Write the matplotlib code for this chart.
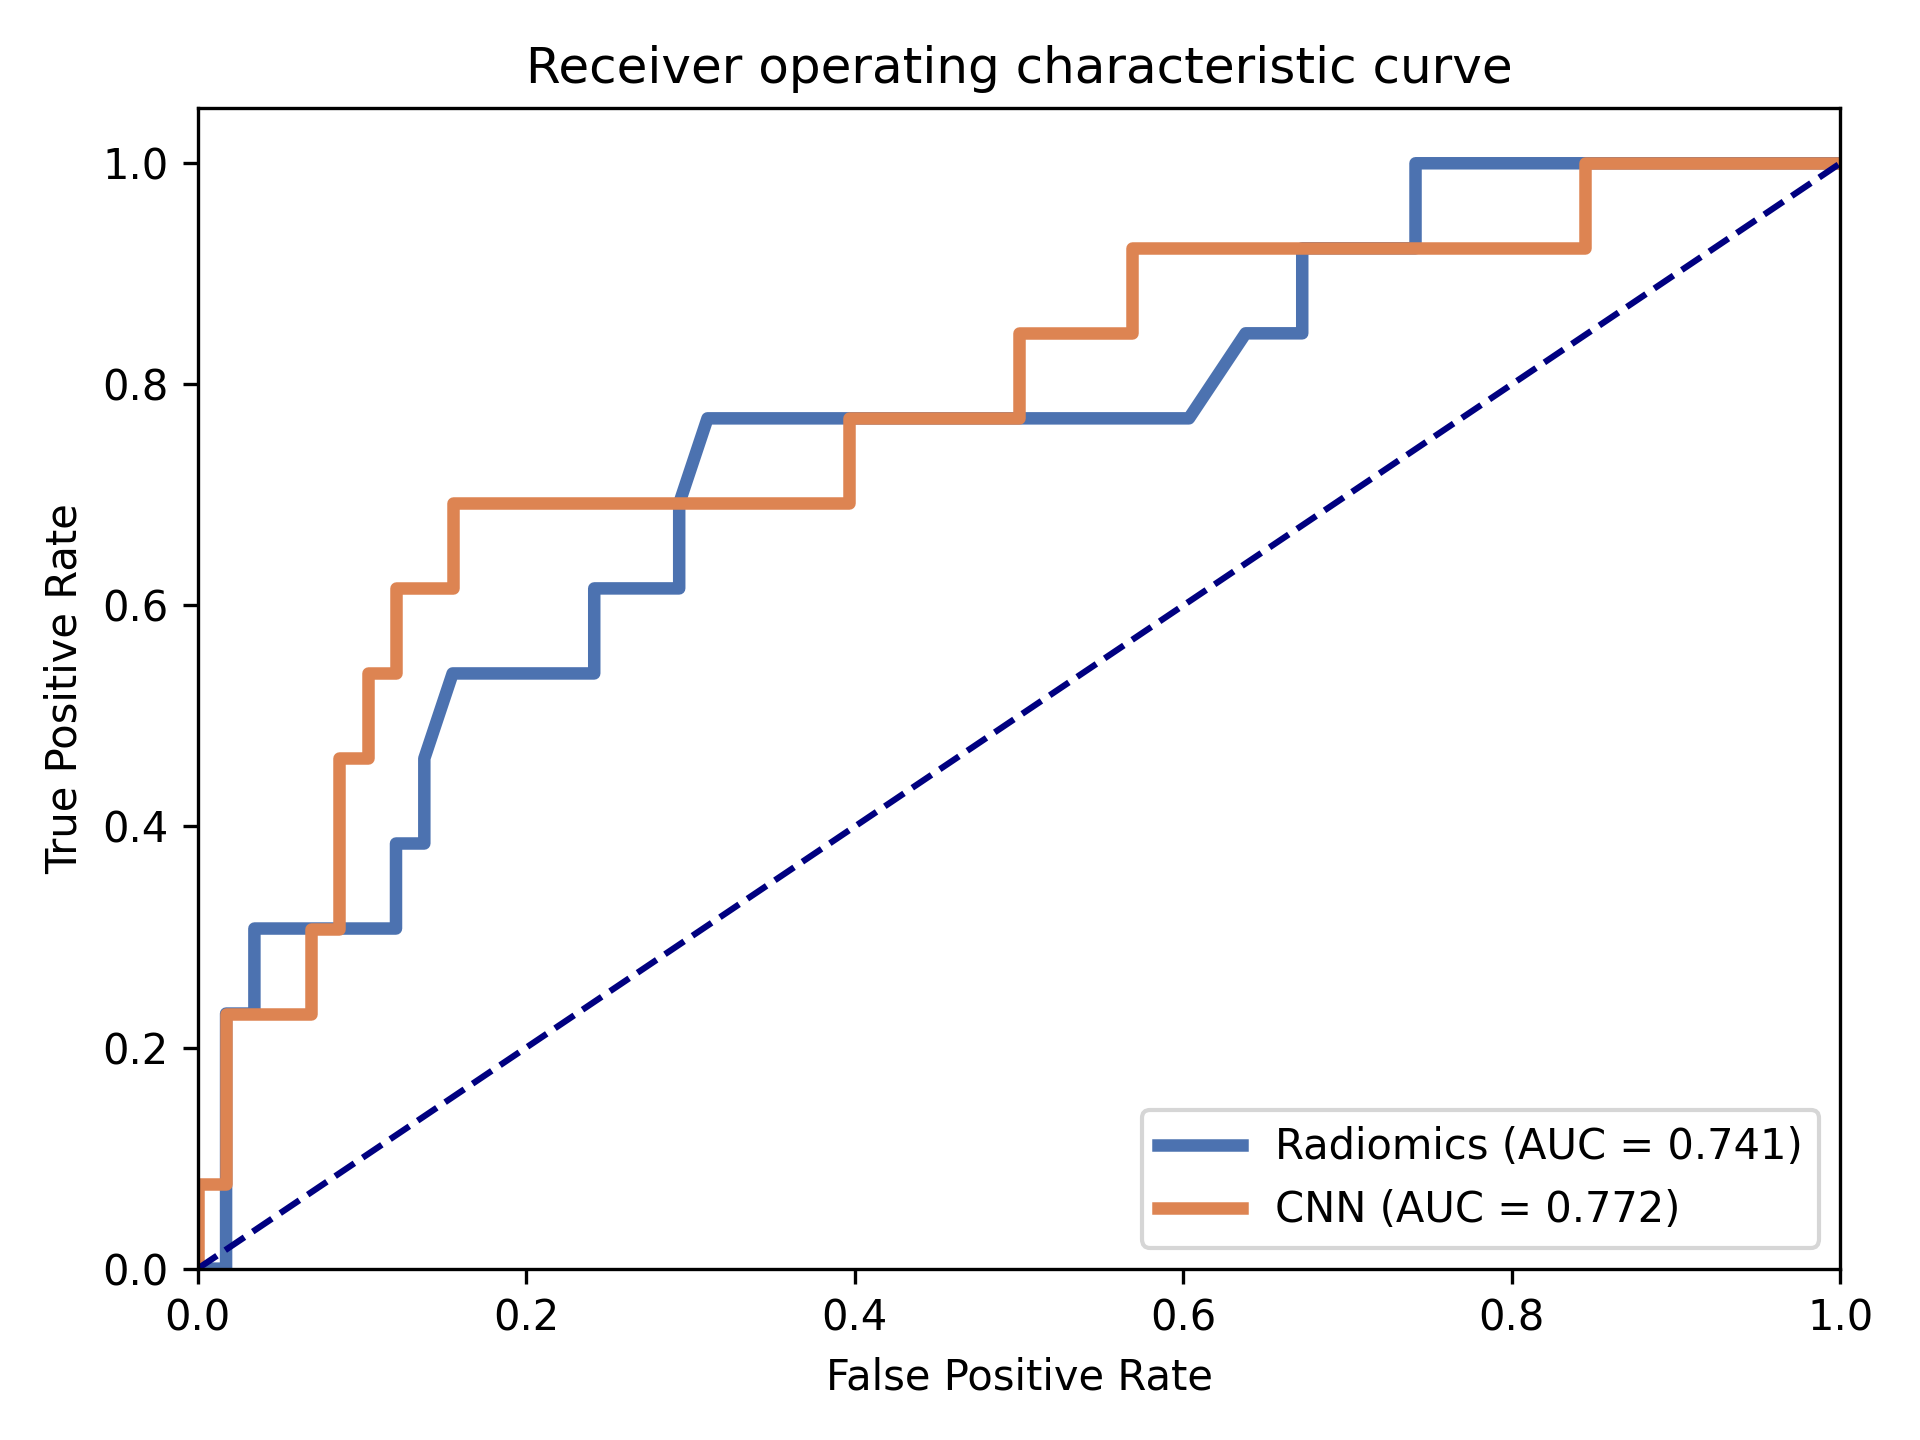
import matplotlib
matplotlib.use("Agg")
import matplotlib.pyplot as plt

# ROC points (58 negatives, 13 positives)
rad_fpr = [0, 1/58, 1/58, 2/58, 2/58, 7/58, 7/58, 8/58, 8/58, 9/58, 14/58, 14/58,
           17/58, 17/58, 18/58, 35/58, 37/58, 39/58, 39/58, 43/58, 43/58, 1.0]
rad_tpr = [0, 0, 3/13, 3/13, 4/13, 4/13, 5/13, 5/13, 6/13, 7/13, 7/13, 8/13,
           8/13, 9/13, 10/13, 10/13, 11/13, 11/13, 12/13, 12/13, 1.0, 1.0]
cnn_fpr = [0, 0, 1/58, 1/58, 4/58, 4/58, 5/58, 5/58, 6/58, 6/58, 7/58, 7/58,
           9/58, 9/58, 23/58, 23/58, 29/58, 29/58, 33/58, 33/58, 49/58, 49/58, 1.0]
cnn_tpr = [0, 1/13, 1/13, 3/13, 3/13, 4/13, 4/13, 6/13, 6/13, 7/13, 7/13, 8/13,
           8/13, 9/13, 9/13, 10/13, 10/13, 11/13, 11/13, 12/13, 12/13, 1.0, 1.0]
labels = ["Radiomics (AUC = 0.741)", "CNN (AUC = 0.772)"]

fig = plt.figure(figsize=(6.4, 4.8), dpi=300)
ax = fig.add_axes([0.103, 0.119, 0.8555, 0.806])
ax.plot(rad_fpr, rad_tpr, color="#4C72B0", lw=3, label=labels[0])
ax.plot(cnn_fpr, cnn_tpr, color="#DD8452", lw=3, label=labels[1])
ax.plot([0, 1], [0, 1], color="navy", lw=1.5, ls="--")
ax.set_xlim(0, 1)
ax.set_ylim(0, 1.05)
ax.set_xlabel("False Positive Rate")
ax.set_ylabel("True Positive Rate")
ax.set_title("Receiver operating characteristic curve")
ax.legend(loc="lower right")
fig.savefig("out.png", dpi=300)
